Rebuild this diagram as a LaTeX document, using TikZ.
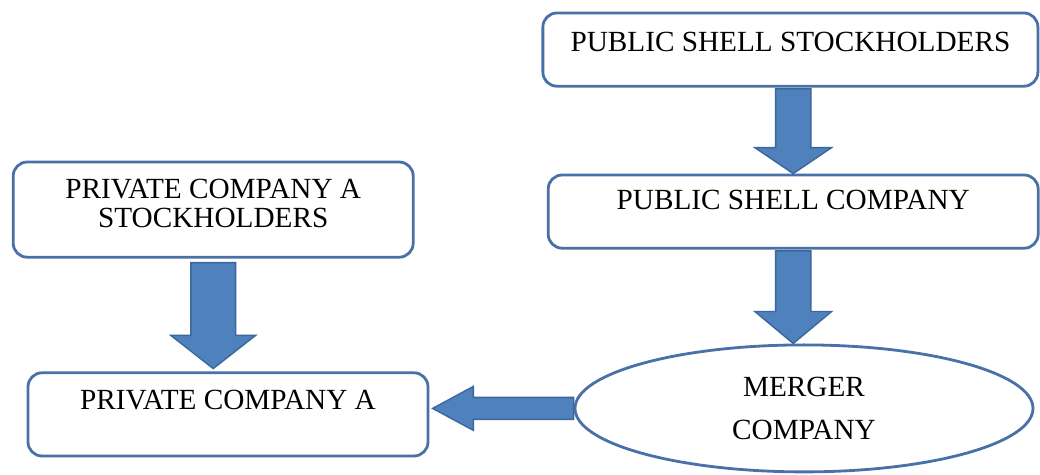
\documentclass[tikz,border=0pt]{standalone}
\usepackage{fontspec}
\setmainfont{Liberation Serif}
\usetikzlibrary{shapes.geometric,calc}
\definecolor{MergeLine}{HTML}{4A70A8}
\definecolor{MergeBlue}{HTML}{4F81BD}
\definecolor{MergeEdge}{HTML}{3A679C}

\begin{document}
\begin{tikzpicture}[x=1cm,y=1cm,
  box/.style={draw=MergeLine,line width=2pt,rounded corners=0.35cm,fill=white,
    inner xsep=0pt,inner ysep=0pt,align=center,font=\fontsize{20.8}{20.6}\selectfont},
  oval/.style={ellipse,draw=MergeLine,line width=2pt,fill=white,inner sep=0pt,
    align=center,font=\fontsize{20.8}{20.6}\selectfont},
  blockarrow/.style={fill=MergeBlue,draw=MergeEdge,line width=1pt,line join=miter}]
\path[use as bounding box] (0,0) rectangle (26.00,11.85);
% boxes
\node[box,minimum width=12.375cm,text height=0.97cm,text depth=0.86cm] (pss) at (19.76,10.61) {PUBLIC SHELL STOCKHOLDERS};
\node[box,minimum width=12.25cm,text height=0.87cm,text depth=0.96cm] (psc) at (19.83,6.56) {PUBLIC SHELL COMPANY};
\node[oval,minimum width=11.45cm,minimum height=3.175cm] (merger) at (20.10,1.64) {MERGER\\[9.9pt]COMPANY};
\node[box,minimum width=10.00cm,text height=1.64cm,text depth=0.74cm] (pcas) at (5.33,6.61) {PRIVATE COMPANY A\\STOCKHOLDERS};
\node[box,minimum width=10.00cm,text height=0.92cm,text depth=1.16cm] (pca) at (5.70,1.49) {PRIVATE COMPANY A};
% arrows
\draw[blockarrow] let \p1=(pss.south), \p2=(psc.north) in
  (\x2-0.44cm,\y1-0.03cm) -- (\x2+0.44cm,\y1-0.03cm) -- (\x2+0.44cm,\y2+0.65cm) -- (\x2+0.96cm,\y2+0.65cm)
  -- (\x2,\y2) -- (\x2-0.96cm,\y2+0.65cm) -- (\x2-0.44cm,\y2+0.65cm) -- cycle;
\draw[blockarrow] let \p1=(psc.south), \p2=(merger.north) in
  (\x1-0.44cm,\y1-0.03cm) -- (\x1+0.44cm,\y1-0.03cm) -- (\x1+0.44cm,\y2+0.80cm) -- (\x1+0.96cm,\y2+0.80cm)
  -- (\x1,\y2) -- (\x1-0.96cm,\y2+0.80cm) -- (\x1-0.44cm,\y2+0.80cm) -- cycle;
\draw[blockarrow] let \p1=(pcas.south), \p2=(pca.north) in
  (\x1-0.56cm,\y1-0.10cm) -- (\x1+0.56cm,\y1-0.10cm) -- (\x1+0.56cm,\y2+0.90cm) -- (\x1+1.06cm,\y2+0.90cm)
  -- (\x1,\y2+0.07cm) -- (\x1-1.06cm,\y2+0.90cm) -- (\x1-0.56cm,\y2+0.90cm) -- cycle;
\draw[blockarrow] let \p1=(merger.west), \p2=(pca.east) in
  (\x1,\y1+0.275cm) -- (\x2+1.10cm,\y1+0.275cm) -- (\x2+1.10cm,\y1+0.55cm) -- (\x2+0.08cm,\y1)
  -- (\x2+1.10cm,\y1-0.55cm) -- (\x2+1.10cm,\y1-0.275cm) -- (\x1,\y1-0.275cm) -- cycle;
\end{tikzpicture}
\end{document}
